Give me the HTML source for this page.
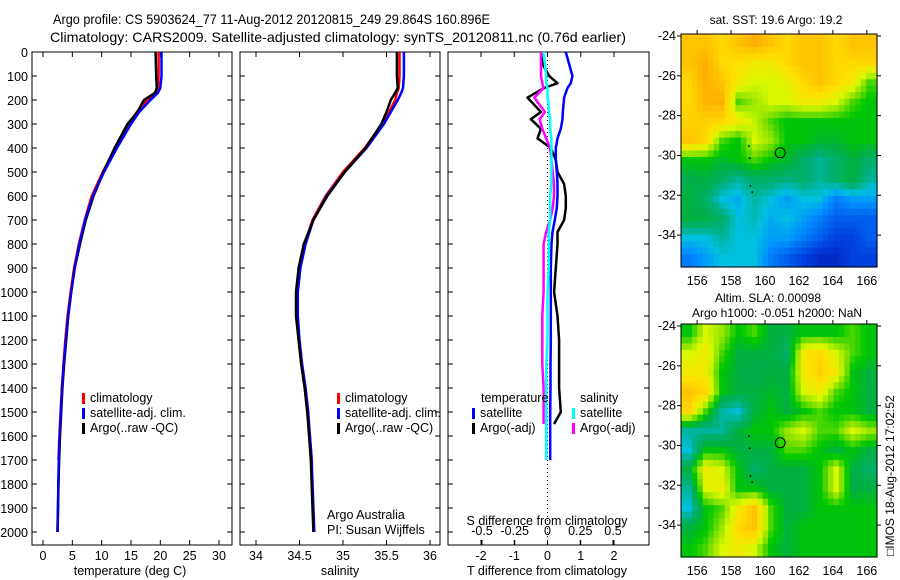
<!DOCTYPE html>
<html><head><meta charset="utf-8">
<style>
html,body{margin:0;padding:0;background:#fff;}
svg{display:block;font-family:"Liberation Sans",sans-serif;}
</style></head>
<body>
<svg id="fig" width="900" height="580" viewBox="0 0 900 580" xmlns="http://www.w3.org/2000/svg">
<text x="53" y="24" font-size="14" textLength="437" lengthAdjust="spacingAndGlyphs">Argo profile: CS 5903624_77 11-Aug-2012 20120815_249 29.864S 160.896E</text>
<text x="50" y="42" font-size="14" textLength="576" lengthAdjust="spacingAndGlyphs">Climatology: CARS2009. Satellite-adjusted climatology: synTS_20120811.nc (0.76d earlier)</text>
<text x="776" y="24" font-size="12" text-anchor="middle">sat. SST: 19.6 Argo: 19.2</text>
<text x="768" y="302" font-size="12" text-anchor="middle">Altim. SLA: 0.00098</text>
<text x="777" y="317" font-size="12" text-anchor="middle">Argo h1000: -0.051 h2000: NaN</text>
<text transform="translate(894,556) rotate(-90)" font-size="12">□IMOS 18-Aug-2012 17:02:52</text>
<g id="g"></g>
</svg>
<script>
// ---------- data ----------
const depthT = [0,100,150,170,200,250,300,400,500,600,700,800,900,1000,1100,1200,1300,1400,1500,1600,1700,1800,1900,2000];
const tempClim = [19.7,19.7,19.6,19.2,17.8,16.0,14.6,12.3,10.2,8.3,7.1,6.1,5.3,4.7,4.2,3.8,3.5,3.2,3.0,2.8,2.65,null,null,null];
const tempSat  = [20.2,20.2,20.0,19.6,18.3,16.4,15.0,12.6,10.4,8.5,7.2,6.2,5.4,4.8,4.3,3.9,3.55,3.25,3.05,2.85,2.7,2.6,2.55,2.5];
const tempArgo = [19.2,19.3,19.4,19.1,17.2,16.1,14.4,12.2,10.3,8.6,7.3,6.3,5.4,4.8,4.3,3.95,3.6,3.3,3.1,2.9,2.75,2.65,2.55,2.45];
const salClim = [35.65,35.65,35.64,35.62,35.6,35.53,35.45,35.25,35.0,34.8,34.65,34.56,34.5,34.47,34.47,34.49,34.52,34.56,34.59,34.62,34.64,null,null,null];
const salSat  = [35.7,35.7,35.69,35.67,35.63,35.55,35.47,35.27,35.02,34.81,34.66,34.57,34.51,34.48,34.48,34.5,34.53,34.57,34.6,34.62,34.64,34.65,34.66,34.67];
const salArgo = [35.62,35.62,35.63,35.6,35.55,35.5,35.44,35.26,35.02,34.82,34.66,34.55,34.49,34.46,34.46,34.49,34.52,34.56,34.59,34.61,34.63,34.64,34.65,34.66];
const depthD = [0,50,100,130,150,190,220,250,280,320,360,400,450,500,550,600,650,700,750,800,900,1000,1100,1200,1300,1400,1500,1550,1700];
const dTsat  = [0.55,0.65,0.75,0.7,0.6,0.5,0.48,0.46,0.45,0.4,0.3,0.25,0.25,0.28,0.3,0.3,0.28,0.22,0.15,0.12,0.1,0.1,0.1,0.1,0.09,0.09,0.08,0.08,0.08];
const dTargo = [-0.2,-0.15,0.05,0.3,-0.1,-0.6,-0.4,-0.2,-0.5,-0.2,-0.3,0.1,0.25,0.3,0.5,0.55,0.55,0.5,0.3,0.3,0.25,0.2,0.3,0.35,0.35,0.35,0.4,0.2,null];
const dSsat  = [-0.03,-0.02,-0.01,-0.01,0.0,0.0,0.01,0.01,0.02,0.02,0.03,0.03,0.03,0.03,0.03,0.02,0.02,0.02,0.01,0.01,0.01,0.0,0.0,0.0,-0.01,-0.01,-0.01,-0.01,-0.01];
const dSargo = [-0.05,-0.05,-0.05,-0.04,-0.03,-0.1,-0.06,-0.02,-0.06,-0.04,-0.01,0.02,0.03,0.04,0.05,0.05,0.04,0.02,-0.01,-0.03,-0.03,-0.03,-0.04,-0.04,-0.04,-0.03,-0.03,-0.03,null];
const depthTicks = [0,100,200,300,400,500,600,700,800,900,1000,1100,1200,1300,1400,1500,1600,1700,1800,1900,2000];
const tempTicks = [0,5,10,15,20,25,30];
const salTicks = [34,34.5,35,35.5,36];
const tdTicks = [-2,-1,0,1,2];
const sdTicks = [-0.5,-0.25,0,0.25,0.5];
const sdLabels = ["-0.5","-0.25","0","0.25","0.5"];
const lonTicks = [156,158,160,162,164,166];
const latTicks = [-24,-26,-28,-30,-32,-34];
const sstGrid = [
[0.85,0.85,0.8,0.85,0.9,0.85,0.8,0.85,0.85,0.8,0.85,0.85],
[0.85,0.9,0.8,0.78,0.75,0.75,0.8,0.85,0.85,0.8,0.8,0.8],
[0.8,0.9,0.85,0.75,0.7,0.7,0.72,0.8,0.85,0.8,0.75,0.6],
[0.8,0.88,0.9,0.6,0.65,0.7,0.7,0.75,0.75,0.7,0.6,0.55],
[0.82,0.82,0.8,0.75,0.68,0.6,0.55,0.55,0.55,0.55,0.55,0.55],
[0.85,0.8,0.6,0.55,0.7,0.65,0.55,0.55,0.52,0.52,0.55,0.55],
[0.55,0.55,0.52,0.55,0.6,0.55,0.52,0.45,0.4,0.45,0.5,0.45],
[0.48,0.5,0.45,0.4,0.45,0.45,0.42,0.45,0.4,0.45,0.5,0.4],
[0.5,0.45,0.35,0.32,0.4,0.35,0.3,0.35,0.35,0.25,0.3,0.3],
[0.5,0.5,0.45,0.35,0.38,0.32,0.35,0.3,0.25,0.2,0.2,0.2],
[0.35,0.35,0.4,0.35,0.35,0.3,0.3,0.25,0.2,0.15,0.15,0.2],
[0.25,0.3,0.35,0.35,0.35,0.25,0.2,0.15,0.1,0.1,0.15,0.15]];
const slaGrid = [
[0.55,0.7,0.65,0.55,0.6,0.5,0.5,0.55,0.55,0.55,0.6,0.55],
[0.7,0.75,0.6,0.5,0.5,0.5,0.45,0.75,0.8,0.7,0.6,0.55],
[0.75,0.75,0.55,0.5,0.48,0.5,0.5,0.75,0.82,0.75,0.55,0.5],
[0.85,0.8,0.55,0.5,0.5,0.52,0.5,0.7,0.75,0.6,0.55,0.5],
[0.8,0.6,0.4,0.35,0.5,0.55,0.5,0.55,0.6,0.55,0.55,0.5],
[0.4,0.4,0.4,0.5,0.55,0.55,0.65,0.7,0.6,0.6,0.7,0.65],
[0.35,0.55,0.55,0.5,0.5,0.5,0.6,0.6,0.55,0.5,0.55,0.5],
[0.5,0.75,0.7,0.55,0.45,0.5,0.5,0.5,0.55,0.7,0.5,0.45],
[0.4,0.7,0.75,0.55,0.55,0.5,0.5,0.5,0.55,0.7,0.5,0.5],
[0.35,0.55,0.6,0.75,0.85,0.6,0.5,0.5,0.55,0.55,0.55,0.55],
[0.5,0.55,0.65,0.8,0.85,0.6,0.5,0.55,0.55,0.55,0.55,0.55],
[0.55,0.6,0.7,0.75,0.7,0.55,0.5,0.55,0.55,0.55,0.55,0.55]];
const argoLon = 160.896, argoLat = -29.864;

// ---------- helpers ----------
const NS="http://www.w3.org/2000/svg";
const G=document.getElementById('g');
function mk(tag,attrs,parent){const e=document.createElementNS(NS,tag);for(const k in attrs)e.setAttribute(k,attrs[k]);(parent||G).appendChild(e);return e;}
function lin(d0,d1,r0,r1){return v=>r0+(v-d0)*(r1-r0)/(d1-d0);}
const yD = lin(0,2000,52,532);
const TOP=52,BOT=545;

function panel(name,x0,x1){
  const r=mk('rect',{x:x0,y:TOP,width:x1-x0,height:BOT-TOP,fill:'none',stroke:'#000','stroke-width':1});
  
  
  depthTicks.forEach(d=>{
    mk('line',{x1:x0,x2:x0+5,y1:yD(d),y2:yD(d),stroke:'#000'});
    mk('line',{x1:x1-5,x2:x1,y1:yD(d),y2:yD(d),stroke:'#000'});
  });
}
function series(name,xf,vals,depths,color,w){
  let d='',pen=false;
  vals.forEach((v,i)=>{ if(v===null){pen=false;return;} d+=(pen?'L':'M')+xf(v).toFixed(1)+','+yD(depths[i]).toFixed(1); pen=true;});
  const p=mk('path',{d:d,fill:'none',stroke:color,'stroke-width':w||2.5,'stroke-linejoin':'round'});
  
  
}
function txt(s,x,y,opt){const t=mk('text',Object.assign({x:x,y:y,'font-size':12.5},opt||{}));t.textContent=s;return t;}
function legend(x,y,items){
  items.forEach((it,i)=>{
    const m=mk('rect',{x:x,y:y+i*15-9,width:3,height:11,fill:it[1]});
    
    
    const t=txt(it[0],x+8,y+i*15);
    
    
  });
}
function xticks(xf,ticks){ticks.forEach(v=>{mk('line',{x1:xf(v),x2:xf(v),y1:TOP,y2:TOP+5,stroke:'#000'});mk('line',{x1:xf(v),x2:xf(v),y1:BOT-5,y2:BOT,stroke:'#000'});});}

// ---------- panel 1: temperature ----------
const xT = lin(0,30,43,219);
panel('temperature-panel',32,232);
xticks(xT,tempTicks);
tempTicks.forEach(v=>txt(v,xT(v),560,{'text-anchor':'middle'}));
depthTicks.forEach(d=>{const t=txt(d,28,yD(d)+5,{'text-anchor':'end'});});
series('temp-climatology',xT,tempClim,depthT,'#ff0000');
series('temp-satellite',xT,tempSat,depthT,'#0000ff');
series('temp-argo',xT,tempArgo,depthT,'#000000');
series('temp-satellite-over',xT,tempSat,depthT,'#0000ff',2);
legend(82,402,[['climatology','#ff0000'],['satellite-adj. clim.','#0000ff'],['Argo(..raw -QC)','#000']]);
txt('temperature (deg C)',130,575,{'text-anchor':'middle'});

// ---------- panel 2: salinity ----------
const xS = lin(34,36,256,430);
panel('salinity-panel',240,440);
xticks(xS,salTicks);
salTicks.forEach(v=>txt(v,xS(v),560,{'text-anchor':'middle'}));
series('sal-climatology',xS,salClim,depthT,'#ff0000');
series('sal-satellite',xS,salSat,depthT,'#0000ff');
series('sal-argo',xS,salArgo,depthT,'#000000');
legend(337,402,[['climatology','#ff0000'],['satellite-adj. clim.','#0000ff'],['Argo(..raw -QC)','#000']]);
txt('Argo Australia',327,519);
txt('PI: Susan Wijffels',327,534);
txt('salinity',340,575,{'text-anchor':'middle'});

// ---------- panel 3: differences ----------
const xDT = lin(-2,2,481,614);
const xDS = lin(-0.5,0.5,482,613);
panel('difference-panel',448,649);
xticks(xDT,tdTicks);
tdTicks.forEach(v=>txt(v,xDT(v),560,{'text-anchor':'middle'}));
sdTicks.forEach((v,i)=>{mk('line',{x1:xDS(v),x2:xDS(v),y1:BOT-5,y2:BOT,stroke:'#000'});txt(sdLabels[i],xDS(v),535,{'text-anchor':'middle'});});
mk('line',{x1:xDT(0),x2:xDT(0),y1:TOP,y2:BOT,stroke:'#000','stroke-dasharray':'1,3'});
series('dT-argo',xDT,dTargo,depthD,'#000000');
series('dT-satellite',xDT,dTsat,depthD,'#0000ff');
series('dS-argo',xDS,dSargo,depthD,'#ff00ff');
series('dS-satellite',xDS,dSsat,depthD,'#00ffff');
txt('temperature',481,402);
txt('salinity',580,402);
legend(472,417,[['satellite','#0000ff'],['Argo(-adj)','#000']]);
legend(572,417,[['satellite','#00ffff'],['Argo(-adj)','#ff00ff']]);
txt('S difference from climatology',547,525,{'text-anchor':'middle'});
txt('T difference from climatology',547,575,{'text-anchor':'middle'});

// ---------- maps ----------
const stops=[[0,[0,0,144]],[0.15,[0,64,224]],[0.28,[0,144,255]],[0.35,[0,192,224]],[0.42,[0,176,128]],[0.5,[0,176,64]],[0.56,[0,200,0]],[0.63,[128,224,0]],[0.7,[216,248,0]],[0.78,[255,224,0]],[0.88,[255,184,0]],[1,[240,128,0]]];
function cmap(v){v=Math.max(0,Math.min(1,v));for(let i=1;i<stops.length;i++){if(v<=stops[i][0]){const a=stops[i-1],b=stops[i],t=(v-a[0])/(b[0]-a[0]);const c=a[1].map((x,k)=>Math.round(x+(b[1][k]-x)*t));return 'rgb('+c.join(',')+')';}}return 'rgb(240,128,0)';}
function map(name,grid,top,bot){
  const L=681,R=877;
  const xL=lin(155.05,166.6,L,R), yL=lin(-23.9,-35.6,top,bot);
  const g=mk('g',{});
  
  
  const n=grid.length,m=grid[0].length,S=3;
  const N=n*S,M=m*S,cw=(R-L)/M,ch=(bot-top)/N;
  function sample(r,c){const fr=Math.max(0,Math.min(n-1,(r+0.5)/S-0.5)),fc=Math.max(0,Math.min(m-1,(c+0.5)/S-0.5));
    const r0=Math.floor(fr),c0=Math.floor(fc),r1=Math.min(n-1,r0+1),c1=Math.min(m-1,c0+1),tr=fr-r0,tc=fc-c0;
    return grid[r0][c0]*(1-tr)*(1-tc)+grid[r0][c1]*(1-tr)*tc+grid[r1][c0]*tr*(1-tc)+grid[r1][c1]*tr*tc;}
  for(let r=0;r<N;r++)for(let c=0;c<M;c++){
    mk('rect',{x:(L+c*cw).toFixed(2),y:(top+r*ch).toFixed(2),width:(cw+0.6).toFixed(2),height:(ch+0.6).toFixed(2),fill:cmap(sample(r,c))},g);
  }
  mk('rect',{x:L,y:top,width:R-L,height:bot-top,fill:'none',stroke:'#000'});
  lonTicks.forEach(v=>{mk('line',{x1:xL(v),x2:xL(v),y1:top,y2:top-4,stroke:'#000'});txt(v,xL(v),bot+18,{'text-anchor':'middle'});});
  latTicks.forEach(v=>{mk('line',{x1:L,x2:L-4,y1:yL(v),y2:yL(v),stroke:'#000'});mk('line',{x1:R,x2:R+4,y1:yL(v),y2:yL(v),stroke:'#000'});txt(v,L-5,yL(v)+4,{'text-anchor':'end'});});
  const c=mk('circle',{cx:xL(argoLon),cy:yL(argoLat),r:5,fill:'none',stroke:'#000','stroke-width':1});
  
  
  [[159,-29.5],[159.05,-30.1],[159.1,-31.5],[159.2,-31.8]].forEach(p=>mk('rect',{x:xL(p[0]),y:yL(p[1]),width:1.5,height:1.5,fill:'#000'}));
}
map('sst-map',sstGrid,34,267);
map('sla-map',slaGrid,324,557);
</script>
</body></html>
